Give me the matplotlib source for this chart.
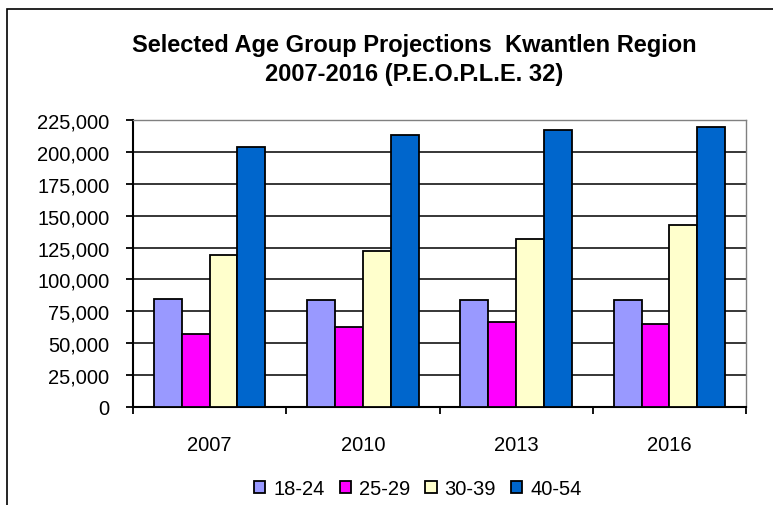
import numpy as np
import matplotlib.pyplot as plt
from matplotlib.patches import Rectangle

plt.rcParams['font.family'] = ['Liberation Sans', 'DejaVu Sans']

years = ["2007", "2010", "2013", "2016"]
age_groups = ["18-24", "25-29", "30-39", "40-54"]
pop_18_24 = [85000, 83500, 83500, 83500]
pop_25_29 = [57000, 63000, 66500, 65000]
pop_30_39 = [119500, 122500, 132000, 142500]
pop_40_54 = [204000, 213000, 217500, 219500]
colors = ["#9999FF", "#FF00FF", "#FFFFCC", "#0066CC"]

series = [pop_18_24, pop_25_29, pop_30_39, pop_40_54]

fig = plt.figure(figsize=(7.73, 5.06), dpi=100)
ax = fig.add_axes([133 / 773, 1 - 408 / 506, (746 - 133) / 773, (408 - 121) / 506])

# outer chart frame (right and bottom run off the image)
fig.patches.append(Rectangle((7 / 773, -0.05), 1.1, 0.05 + 1 - 10 / 506,
                             transform=fig.transFigure, fill=False,
                             edgecolor="black", linewidth=1.2))

x = np.arange(len(years))
width = 1 / 5.5
for i, (vals, name) in enumerate(zip(series, age_groups)):
    ax.bar(x + (i - 1.5) * width, vals, width, color=colors[i],
           edgecolor="black", linewidth=1.3, label=name, zorder=3)

ax.set_xlim(-0.5, 3.5)
ax.set_ylim(0, 225000)
ax.set_yticks(np.arange(0, 225001, 25000))
ax.yaxis.set_major_formatter(plt.FuncFormatter(lambda v, p: f"{int(v):,}"))
ax.yaxis.grid(True, color="black", linewidth=1.1, zorder=0)
ax.set_xticks(x)
ax.set_xticklabels(years)
ax.set_xticks(np.arange(-0.5, 3.6, 1), minor=True)
ax.tick_params(axis="x", which="major", length=0, pad=20, labelsize=14.5)
ax.tick_params(axis="x", which="minor", length=5, width=1.3)
ax.tick_params(axis="y", length=5, width=1.3, labelsize=14.5, pad=12)

for s in ["top", "right"]:
    ax.spines[s].set_color("#808080")
    ax.spines[s].set_linewidth(1.0)
for s in ["left", "bottom"]:
    ax.spines[s].set_linewidth(1.5)

fig.text(414 / 773, 1 - 60 / 506, "Selected Age Group Projections  Kwantlen Region\n2007-2016 (P.E.O.P.L.E. 32)",
         ha="center", va="center", fontsize=17, fontweight="bold", linespacing=1.3)

ax.legend(loc="center", bbox_to_anchor=(418 / 773, 1 - 490 / 506), bbox_transform=fig.transFigure,
          ncol=4, frameon=False, fontsize=14.5, handlelength=0.55, handleheight=0.55,
          handletextpad=0.4, columnspacing=0.75, borderpad=0)

fig.savefig("out.png", dpi=100)
